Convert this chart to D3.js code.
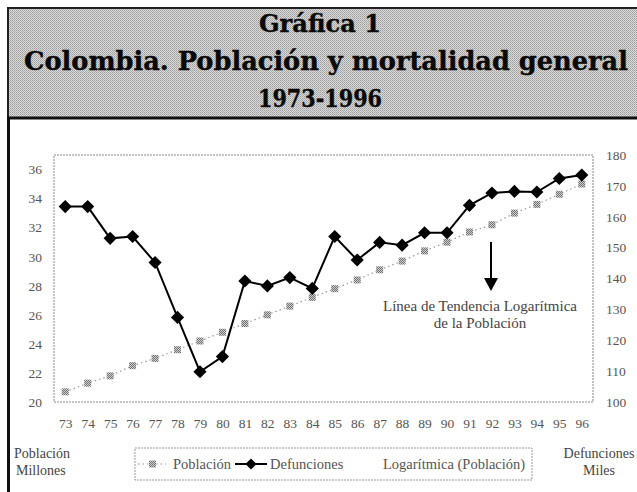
<!DOCTYPE html>
<html><head><meta charset="utf-8">
<script src="https://cdn.jsdelivr.net/npm/d3@7"></script>
<style>html,body{margin:0;padding:0;background:#fff;}svg{display:block;}</style>
</head><body>
<script>
const years = ["73","74","75","76","77","78","79","80","81","82","83","84","85","86","87","88","89","90","91","92","93","94","95","96"];
const poblacion = [20.7,21.3,21.8,22.5,23.0,23.6,24.2,24.8,25.4,26.0,26.6,27.2,27.8,28.4,29.1,29.7,30.4,31.0,31.7,32.2,33.0,33.6,34.3,35.0];
const defunciones = [163.3,163.3,153.0,153.6,145.2,127.4,109.8,114.7,139.2,137.6,140.3,136.8,153.6,146.0,151.7,150.8,154.8,154.8,163.7,167.7,168.2,168.0,172.4,173.5];
const leftTicks = [20,22,24,26,28,30,32,34,36];
const rightTicks = [100,110,120,130,140,150,160,170,180];
const titleLines = ["Gráfica 1","Colombia. Población y mortalidad general","1973-1996"];
const annotation = ["Línea de Tendencia Logarítmica","de la Población"];
const legendLabels = ["Población","Defunciones","Logarítmica (Población)"];

const W=637,H=492;
const svg=d3.select("body").append("svg").attr("width",W).attr("height",H);
const defs=svg.append("defs");
const pat=defs.append("pattern").attr("id","dither").attr("width",2).attr("height",2).attr("patternUnits","userSpaceOnUse");
pat.append("rect").attr("width",2).attr("height",2).attr("fill","#dadada");
pat.append("rect").attr("width",1).attr("height",1).attr("fill","#9c9c9c");
pat.append("rect").attr("x",1).attr("y",1).attr("width",1).attr("height",1).attr("fill","#b0b0b0");
const chk=defs.append("pattern").attr("id","chk").attr("width",2).attr("height",2).attr("patternUnits","userSpaceOnUse");
chk.append("rect").attr("width",2).attr("height",2).attr("fill","#d0d0d0");
chk.append("rect").attr("width",1).attr("height",1).attr("fill","#707070");
chk.append("rect").attr("x",1).attr("y",1).attr("width",1).attr("height",1).attr("fill","#707070");

// Title box
svg.append("rect").attr("x",8).attr("y",8).attr("width",W).attr("height",110)
  .attr("fill","url(#dither)").attr("stroke","#222").attr("stroke-width",2);
svg.append("line").attr("x1",7).attr("x2",W).attr("y1",118).attr("y2",118).attr("stroke","#111").attr("stroke-width",3);
svg.append("line").attr("x1",8.5).attr("x2",8.5).attr("y1",118).attr("y2",H).attr("stroke","#111").attr("stroke-width",3);

const tfont="'DejaVu Serif', serif";
svg.append("text").attr("x",320).attr("y",32).attr("text-anchor","middle")
  .style("font-family",tfont).style("font-weight","bold").style("font-size","25px").attr("fill","#0a0a0a")
  .attr("stroke","#0a0a0a").attr("stroke-width",0.4)
  .attr("textLength",122).attr("lengthAdjust","spacingAndGlyphs").text(titleLines[0]);
svg.append("text").attr("x",326).attr("y",70).attr("text-anchor","middle")
  .style("font-family",tfont).style("font-weight","bold").style("font-size","26px").attr("fill","#0a0a0a")
  .attr("stroke","#0a0a0a").attr("stroke-width",0.4)
  .attr("textLength",604).attr("lengthAdjust","spacingAndGlyphs").text(titleLines[1]);
svg.append("text").attr("x",320).attr("y",107).attr("text-anchor","middle")
  .style("font-family",tfont).style("font-weight","bold").style("font-size","25px").attr("fill","#0a0a0a")
  .attr("stroke","#0a0a0a").attr("stroke-width",0.4)
  .attr("textLength",124).attr("lengthAdjust","spacingAndGlyphs").text(titleLines[2]);

// Plot area
const L=54,R=593,T=155,B=402;
const x=d3.scalePoint().domain(years).range([L,R]).padding(0.5);
const yL=d3.scaleLinear().domain([20,37]).range([B,T]);
const yR=d3.scaleLinear().domain([100,180]).range([B,T]);

svg.append("rect").attr("x",L).attr("y",T).attr("width",R-L).attr("height",B-T)
  .attr("fill","none").attr("stroke","#888").attr("stroke-width",1).attr("stroke-dasharray","2,1");

const lfont="'Liberation Serif', serif";
const gL=svg.append("g").attr("transform",`translate(${L-6},0)`)
  .call(d3.axisLeft(yL).tickValues(leftTicks).tickSize(0).tickPadding(6));
const gR=svg.append("g").attr("transform",`translate(${R+7},0)`)
  .call(d3.axisRight(yR).tickValues(rightTicks).tickSize(0).tickPadding(6));
const gX=svg.append("g").attr("transform",`translate(0,${B+12})`)
  .call(d3.axisBottom(x).tickSize(0).tickPadding(4));
[gL,gR,gX].forEach(g=>{
  g.select(".domain").remove();
  g.selectAll("text").style("font-family",lfont).style("font-size","13.5px").attr("fill","#555");
});

// Poblacion dotted line + markers
svg.append("path").datum(poblacion)
  .attr("d",d3.line().x((d,i)=>x(years[i])).y(d=>yL(d)))
  .attr("fill","none").attr("stroke","#999").attr("stroke-width",1.2).attr("stroke-dasharray","1.5,3");

// Defunciones
svg.append("path").datum(defunciones)
  .attr("d",d3.line().x((d,i)=>x(years[i])).y(d=>yR(d)))
  .attr("fill","none").attr("stroke","#000").attr("stroke-width",2);

svg.selectAll("rect.pob").data(poblacion).enter().append("rect").attr("class","pob")
  .attr("x",(d,i)=>x(years[i])-3.5).attr("y",d=>yL(d)-3.5).attr("width",7).attr("height",7)
  .attr("fill","url(#chk)");

const diamond=d3.symbol().type(d3.symbolDiamond2).size(110);
svg.selectAll("path.def").data(defunciones).enter().append("path").attr("class","def")
  .attr("transform",(d,i)=>`translate(${x(years[i])},${yR(d)})`)
  .attr("d",diamond).attr("fill","#000");

// Annotation arrow
const ax=491;
svg.append("line").attr("x1",ax).attr("x2",ax).attr("y1",242).attr("y2",280).attr("stroke","#000").attr("stroke-width",2);
svg.append("path").attr("d",`M${ax-7},278 L${ax+7},278 L${ax},291 Z`).attr("fill","#000");
svg.append("text").attr("x",480).attr("y",311).attr("text-anchor","middle")
  .style("font-family",lfont).style("font-size","15px").attr("fill","#444").text(annotation[0]);
svg.append("text").attr("x",480).attr("y",328).attr("text-anchor","middle")
  .style("font-family",lfont).style("font-size","15px").attr("fill","#444").text(annotation[1]);

// Legend
svg.append("rect").attr("x",135).attr("y",448).attr("width",397).attr("height",32)
  .attr("fill","none").attr("stroke","#999").attr("stroke-width",1).attr("stroke-dasharray","2,1");
const ly=464;
svg.append("line").attr("x1",138).attr("x2",166).attr("y1",ly).attr("y2",ly).attr("stroke","#999").attr("stroke-dasharray","1.5,3").attr("stroke-width",1.2);
svg.append("rect").attr("x",149).attr("y",ly-3.5).attr("width",7).attr("height",7).attr("fill","url(#chk)");
svg.append("text").attr("x",173).attr("y",ly+5).style("font-family",lfont).style("font-size","14.5px").attr("fill","#555").text(legendLabels[0]);
svg.append("line").attr("x1",235).attr("x2",267).attr("y1",ly).attr("y2",ly).attr("stroke","#000").attr("stroke-width",2);
svg.append("path").attr("transform",`translate(251,${ly})`).attr("d",d3.symbol().type(d3.symbolDiamond2).size(80)).attr("fill","#000");
svg.append("text").attr("x",270).attr("y",ly+5).style("font-family",lfont).style("font-size","14.5px").attr("fill","#555").text(legendLabels[1]);
svg.append("text").attr("x",383).attr("y",ly+5).style("font-family",lfont).style("font-size","14.5px").attr("fill","#555").text(legendLabels[2]);

// Axis titles
svg.append("text").attr("x",14).attr("y",458).style("font-family",lfont).style("font-size","14px").attr("fill","#444").text("Población");
svg.append("text").attr("x",16).attr("y",475).style("font-family",lfont).style("font-size","14px").attr("fill","#444").text("Millones");
svg.append("text").attr("x",599).attr("y",458).attr("text-anchor","middle").style("font-family",lfont).style("font-size","14px").attr("fill","#444").text("Defunciones");
svg.append("text").attr("x",599).attr("y",475).attr("text-anchor","middle").style("font-family",lfont).style("font-size","14px").attr("fill","#444").text("Miles");
</script>
</body></html>
